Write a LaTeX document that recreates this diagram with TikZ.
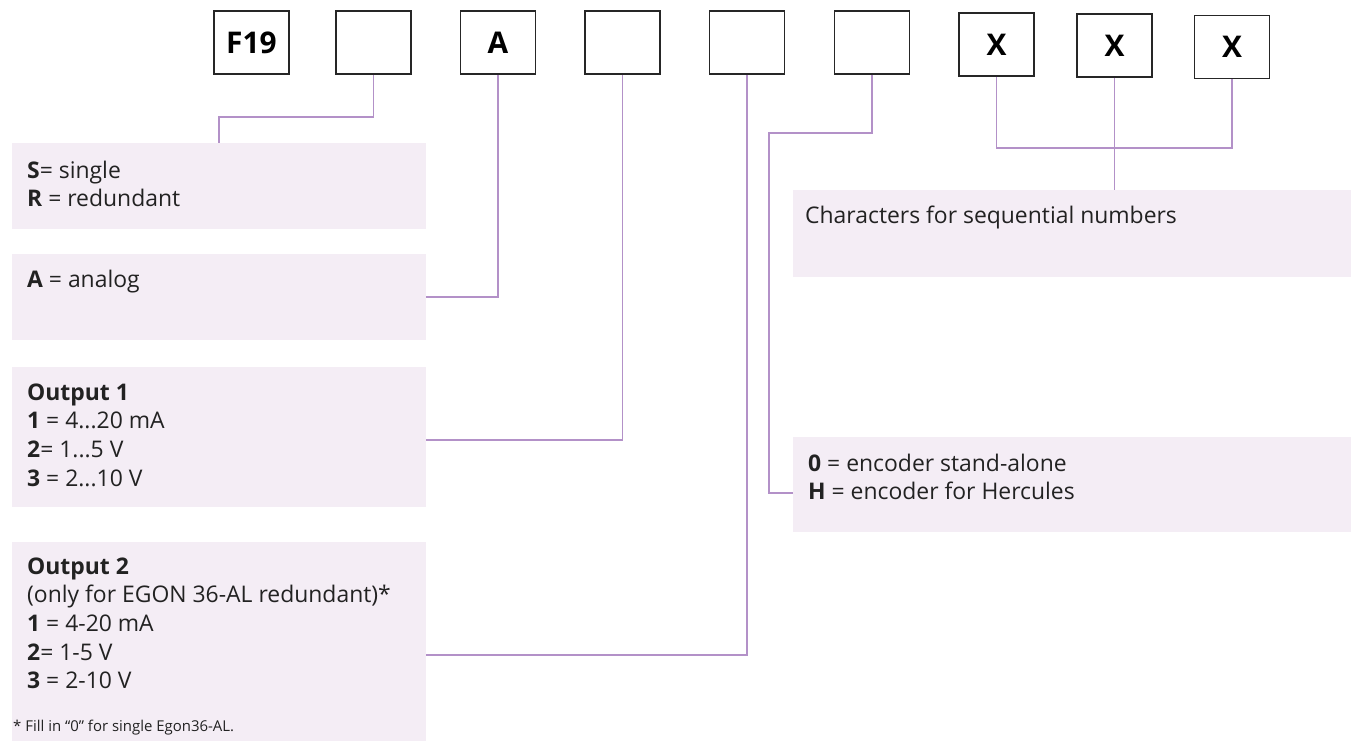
\documentclass[tikz,border=0pt]{standalone}
\usepackage{fontspec}
\setmainfont{Open Sans}
\usepackage{tikz}

\definecolor{linkpurple}{HTML}{B391C8}
\definecolor{notefill}{HTML}{F4EDF5}
\definecolor{notetext}{HTML}{222222}

\tikzset{
    codebox/.style={draw=black!85, line width=1.5bp, fill=white,
        minimum width=75bp, minimum height=63bp, inner sep=0pt,
        font=\fontsize{30}{34}\selectfont\bfseries},
    notebox/.style={fill=notefill, inner sep=0pt, anchor=north west},
    notetext/.style={anchor=north west, inner sep=0pt, align=left,
        text=notetext, font=\fontsize{23}{28.7}\selectfont},
    link/.style={draw=linkpurple, line width=1.5bp},
}

\begin{document}
\begin{tikzpicture}[x=1bp, y=-1bp]
    \useasboundingbox (0,0) rectangle (1351,741);

    % Felder des Bestellcodes
    \node[codebox] (f19) at (251.5,42.5) {F19};
    \node[codebox] (s)   at (373.5,42.5) {};
    \node[codebox] (a)   at (498,42.5)   {A};
    \node[codebox] (o1)  at (622.5,42.5) {};
    \node[codebox] (o2)  at (747,42.5)   {};
    \node[codebox] (e)   at (872,42.5)   {};
    \node[codebox] (xa)  at (996.5,44.5) {X};
    \node[codebox] (xb)  at (1114.5,45.5) {X};
    \node[codebox] (xc)  at (1232,47)    {X};

    % Hinterlegte Felder
    \node[notebox, minimum width=414bp, minimum height=86bp]  (noteS)    at (12,143) {};
    \node[notebox, minimum width=414bp, minimum height=86bp]  (noteA)    at (12,254) {};
    \node[notebox, minimum width=414bp, minimum height=140bp] (noteOut1) at (12,367) {};
    \node[notebox, minimum width=414bp, minimum height=199bp] (noteOut2) at (12,542) {};
    \node[notebox, minimum width=558bp, minimum height=87bp]  (noteChars) at (793,190) {};
    \node[notebox, minimum width=558bp, minimum height=95bp]  (noteEnc)  at (793,437) {};

    % Texte
    \node[notetext] (txtS) at (27,160.5)
        {\textbf{S}= single\\\textbf{R} = redundant};
    \node[notetext] (txtA) at (27,269.5) {\textbf{A} = analog};
    \node[notetext] (txtOut1) at (27,383.5)
        {\textbf{Output 1}\\\textbf{1} = 4...20 mA\\\textbf{2}= 1...5 V\\\textbf{3} = 2...10 V};
    \node[notetext] (txtOut2) at (27,557.5)
        {\textbf{Output 2}\\(only for EGON 36-AL redundant)*\\\textbf{1} = 4-20 mA\\\textbf{2}= 1-5 V\\\textbf{3} = 2-10 V};
    \node[notetext, font=\fontsize{15}{17}\selectfont] (txtFoot) at (13,719.5)
        {* Fill in “0” for single Egon36-AL.};
    \node[notetext] (txtChars) at (805,205.5) {Characters for sequential numbers};
    \node[notetext] (txtEnc) at (808,453.5)
        {\textbf{0} = encoder stand-alone\\\textbf{H} = encoder for Hercules};

    % Verbindungen
    \draw[link] (s.south) -- ++(0,42) -| ([xshift=207bp]noteS.north west);
    \draw[link] (a.south) |- (noteA.east);
    \draw[link] (o1.south) |- ([yshift=-3bp]noteOut1.east);
    \draw[link] (o2.south) |- ([yshift=-13.5bp]noteOut2.east);
    \draw[link] (e.south) -- ++(0,58) -| ([xshift=-24bp,yshift=-8.5bp]noteEnc.west)
        -- ([yshift=-8.5bp]noteEnc.west);
    \draw[link] (xa.south) -- ++(0,71) -| (xc.south);
    \draw[link] (xb.south) -- (xb.south |- noteChars.north);
\end{tikzpicture}
\end{document}
